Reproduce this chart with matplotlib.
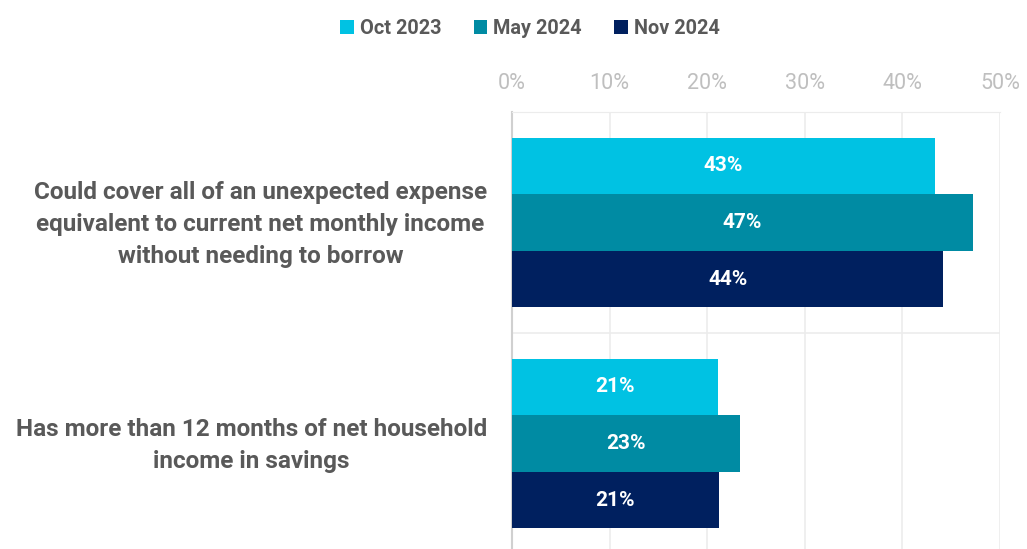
import numpy as np
import matplotlib
matplotlib.use("Agg")
from matplotlib import pyplot as plt
from matplotlib.ticker import FuncFormatter
from matplotlib.transforms import blended_transform_factory, offset_copy

plt.rcParams['font.family'] = ['Roboto', 'DejaVu Sans']

categories = ["Could cover all of an unexpected expense\nequivalent to current net monthly income\nwithout needing to borrow",
              "Has more than 12 months of net household\nincome in savings"]
series = ["Oct 2023", "May 2024", "Nov 2024"]
oct_2023 = [43.3, 21.1]
may_2024 = [47.2, 23.4]
nov_2024 = [44.2, 21.2]
colors = ["#00c2e3", "#008ba3", "#00205f"]

fig = plt.figure(figsize=(10.27, 5.49), dpi=100)
ax = fig.add_axes([0.4985, -0.009, 0.4752, 0.805])

bar_h = 0.256
offsets = [-bar_h, 0, bar_h]
y = np.arange(len(categories))
for vals, off, col, name in zip([oct_2023, may_2024, nov_2024], offsets, colors, series):
    bars = ax.barh(y + off, vals, height=bar_h, color=col, label=name, zorder=3)
    for b, v in zip(bars, vals):
        ax.text(v / 2, b.get_y() + b.get_height() / 2, f"{v:.0f}%", ha="center", va="center",
                color="white", fontsize=15, fontweight="bold", zorder=4)

ax.set_xlim(0, 50)
ax.set_ylim(1.5, -0.5)
ax.set_xticks(np.arange(0, 51, 10))
ax.xaxis.set_major_formatter(FuncFormatter(lambda v, p: f"{v:.0f}%"))
ax.xaxis.tick_top()
ax.tick_params(axis="x", length=0, pad=13, labelsize=15.5, labelcolor="#bfbfbf")
ax.set_yticks([])

# category labels: centred lines, block right-aligned next to the axis
trans = offset_copy(blended_transform_factory(ax.transAxes, ax.transData), fig=fig, x=-25, y=-2, units="dots")
for yi, cat in zip(y, categories):
    ax.text(0, yi, cat, transform=trans, ha="right", va="center", multialignment="center",
            fontsize=17.5, fontweight="bold", color="#595959", linespacing=1.48)

ax.grid(axis="x", color="#ececec", linewidth=1.2, zorder=0)
ax.axhline(0.5, color="#ececec", linewidth=1.2, zorder=0)
for s in ["right", "bottom"]:
    ax.spines[s].set_visible(False)
ax.spines["top"].set_color("#ececec")
ax.spines["left"].set_color("#d0d0d0")
ax.spines["left"].set_linewidth(1.5)

leg = fig.legend(loc="upper center", bbox_to_anchor=(0.516, 0.998), ncol=3, frameon=False,
                 handlelength=0.7, handleheight=0.7, handletextpad=0.3, columnspacing=1.6,
                 prop={"size": 14.3, "weight": "bold"})
for t in leg.get_texts():
    t.set_color("#595959")

fig.savefig("out.png", dpi=100)
